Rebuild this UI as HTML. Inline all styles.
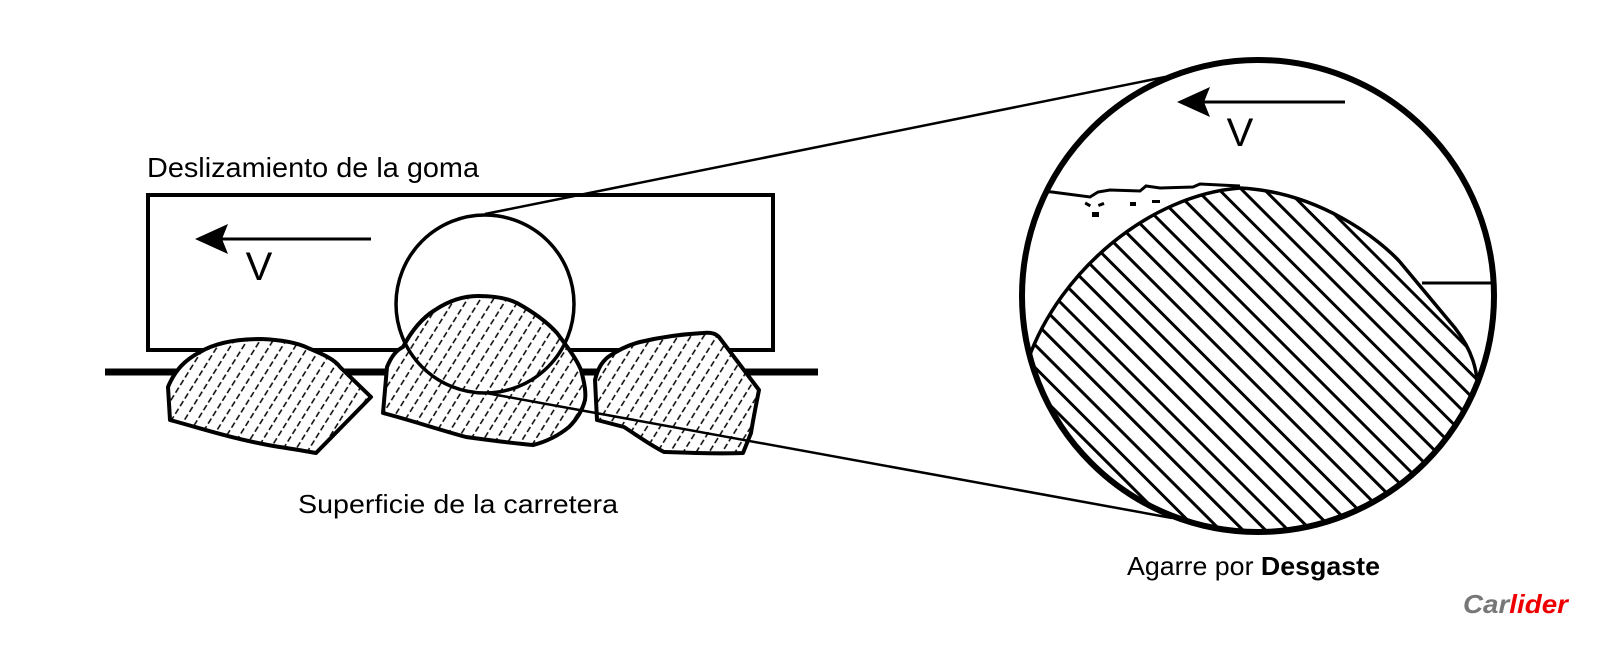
<!DOCTYPE html>
<html><head><meta charset="utf-8"><style>
html,body{margin:0;padding:0;background:#fff;}
svg{display:block;}
text{font-family:"Liberation Sans",sans-serif;}
</style></head><body>
<svg width="1600" height="648" viewBox="0 0 1600 648" xmlns="http://www.w3.org/2000/svg">
<defs>
<pattern id="rh" patternUnits="userSpaceOnUse" width="11" height="9" patternTransform="rotate(32)">
<rect width="11" height="9" fill="#fff"/>
<line x1="5" y1="0" x2="5" y2="9" stroke="#000" stroke-width="1.5" stroke-dasharray="6 3"/>
</pattern>
<pattern id="bh" patternUnits="userSpaceOnUse" width="16" height="16" patternTransform="rotate(-45)">
<line x1="8" y1="0" x2="8" y2="16" stroke="#000" stroke-width="3"/>
</pattern>
<clipPath id="cc"><circle cx="1258" cy="296" r="234"/></clipPath>
</defs>

<!-- tangent lines -->
<line x1="485" y1="214" x2="1165" y2="77" stroke="#000" stroke-width="2.5"/>

<!-- rectangle -->
<rect x="148" y="195" width="625" height="155" fill="none" stroke="#000" stroke-width="4"/>
<!-- road -->
<line x1="105" y1="372" x2="818" y2="372" stroke="#000" stroke-width="7"/>

<!-- rocks -->
<path d="M170,420 L168,387 C175,370 185,360 200,352 C215,343 235,339 261,339 C285,340 300,344 308,348 C325,355 335,360 340,367 L371,397 L316,453 C300,450 285,448 268,445 C230,438 200,428 170,420 Z" fill="url(#rh)" stroke="#000" stroke-width="4" stroke-linejoin="round"/>
<path d="M383,413 L387,367 C392,355 397,350 403,347 C412,330 422,318 435,310 C450,300 465,296 478,296 C495,296 507,298 517,303 C535,313 548,323 557,333 C568,348 576,358 581,370 C585,385 586,393 585,400 C582,412 576,420 569,427 C558,436 545,442 533,445 C510,443 488,440 466,437 C440,430 410,420 383,413 Z" fill="url(#rh)" stroke="#000" stroke-width="4" stroke-linejoin="round"/>
<path d="M597,420 L595,380 C598,368 602,362 608,357 C618,350 628,345 640,342 C665,336 685,334 703,333 C712,332 716,334 719,337 L759,390 C756,405 753,420 751,433 L743,453 C715,454 690,453 664,452 C650,445 638,436 624,427 Z" fill="url(#rh)" stroke="#000" stroke-width="4" stroke-linejoin="round"/>

<!-- small circle -->
<circle cx="485" cy="304" r="89" fill="none" stroke="#000" stroke-width="3.5"/>
<line x1="486" y1="393" x2="1172" y2="518" stroke="#000" stroke-width="2.5"/>

<!-- left arrow -->
<line x1="215" y1="239" x2="371" y2="239" stroke="#000" stroke-width="3"/>
<polygon points="195,239 228,224 222,239 228,254" fill="#000"/>
<text x="259" y="280" font-size="40" text-anchor="middle" fill="#000">V</text>

<text x="147" y="177" font-size="28" fill="#000" textLength="332" lengthAdjust="spacingAndGlyphs">Deslizamiento de la goma</text>
<text x="298" y="513" font-size="26" fill="#000" textLength="320" lengthAdjust="spacingAndGlyphs">Superficie de la carretera</text>

<!-- big circle -->
<circle cx="1258" cy="296" r="236" fill="#fff" stroke="none"/>
<g clip-path="url(#cc)">
<path d="M1028,360 C1060,270 1150,195 1240,188 C1320,192 1380,240 1400,262 L1455,328 C1472,350 1478,370 1478,385 L1600,385 L1600,648 L990,648 L990,360 Z" fill="url(#bh)" stroke="none"/>
<path d="M1028,360 C1060,270 1150,195 1240,188 C1320,192 1380,240 1400,262 L1455,328 C1472,350 1478,370 1478,395" fill="none" stroke="#000" stroke-width="3.5"/>
<path d="M1022,190 L1052,192 L1090,197 L1098,192 L1110,190 L1140,191 L1146,186 L1160,188 L1193,187 L1200,184 L1240,186" fill="none" stroke="#000" stroke-width="3"/>
<line x1="1422" y1="283" x2="1500" y2="283" stroke="#000" stroke-width="3"/>
</g>
<g fill="#000">
<rect x="1085" y="203" width="6" height="3" transform="rotate(30 1088 204)"/>
<rect x="1098" y="203" width="6" height="3" transform="rotate(-20 1101 204)"/>
<rect x="1092" y="212" width="7" height="5"/>
<rect x="1130" y="202" width="6" height="4"/>
<rect x="1152" y="200" width="8" height="3"/>
</g>
<circle cx="1258" cy="296" r="236" fill="none" stroke="#000" stroke-width="6"/>

<!-- right arrow -->
<line x1="1198" y1="102" x2="1345" y2="102" stroke="#000" stroke-width="3"/>
<polygon points="1177,102 1210,87 1204,102 1210,117" fill="#000"/>
<text x="1240" y="146" font-size="40" text-anchor="middle" fill="#000">V</text>

<text x="1127" y="575" font-size="26" fill="#000" textLength="253" lengthAdjust="spacingAndGlyphs">Agarre por <tspan font-weight="bold">Desgaste</tspan></text>

<!-- logo -->
<text x="1463" y="613" font-size="26" font-weight="bold" font-style="italic" textLength="105" lengthAdjust="spacingAndGlyphs"><tspan fill="#777">Car</tspan><tspan fill="#e00">lider</tspan></text>
</svg>
</body></html>
